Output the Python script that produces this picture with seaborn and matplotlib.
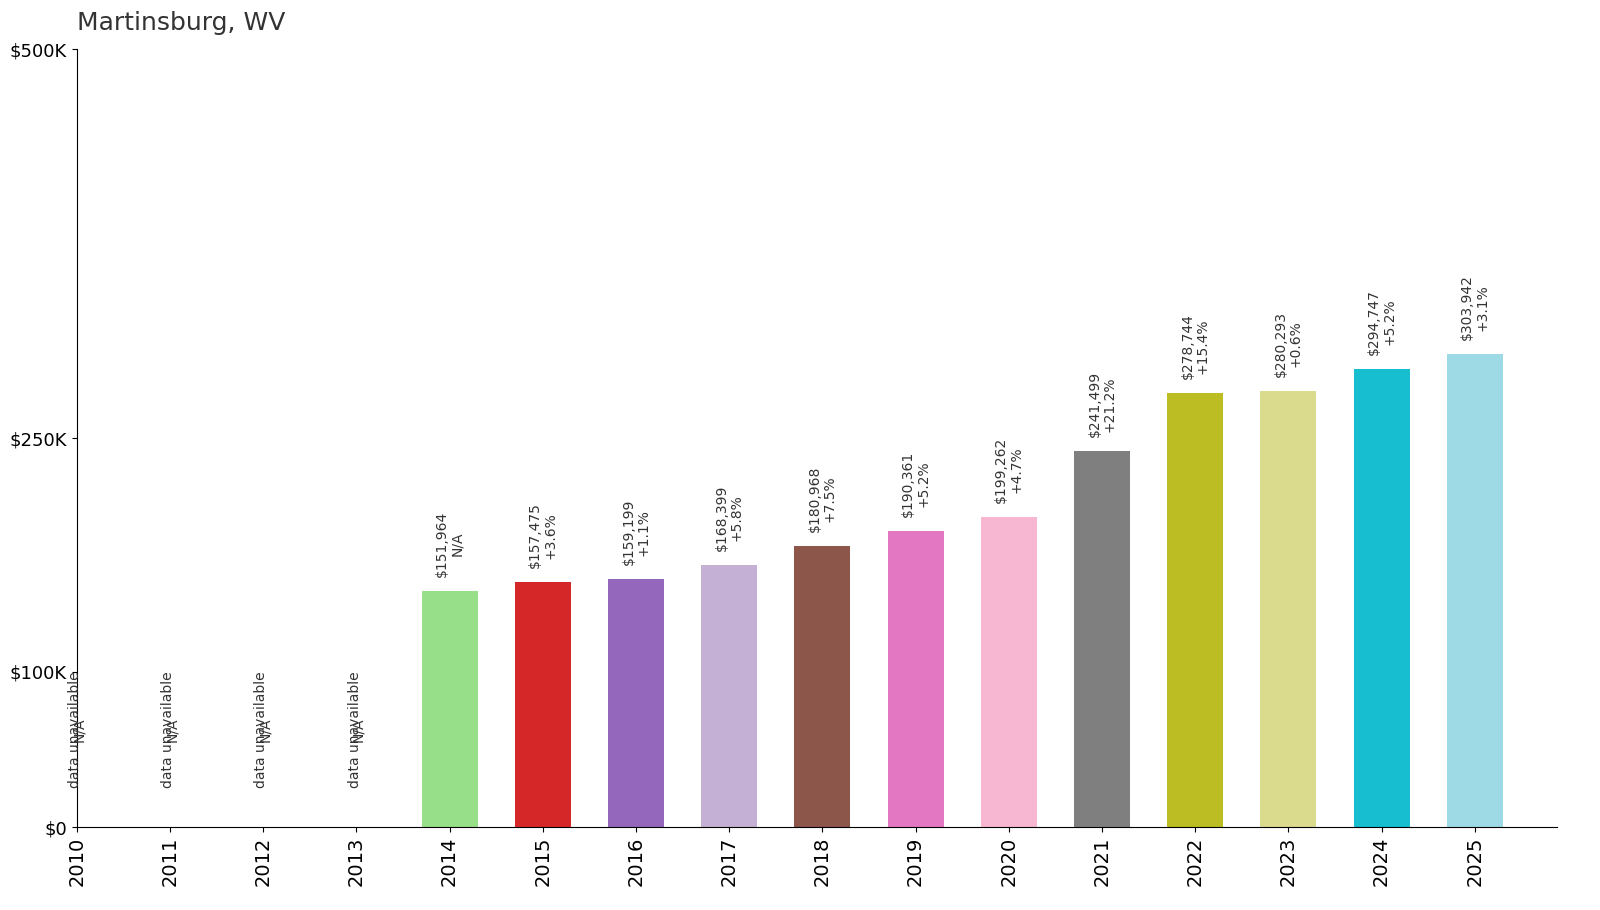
import matplotlib
matplotlib.use("Agg")
import matplotlib.pyplot as plt
import seaborn as sns
import pandas as pd

years = list(range(2010, 2026))
values = [None, None, None, None, 151964, 157475, 159199, 168399, 180968, 190361,
          199262, 241499, 278744, 280293, 294747, 303942]
changes = [None, None, None, None, "N/A", "+3.6%", "+1.1%", "+5.8%", "+7.5%", "+5.2%",
           "+4.7%", "+21.2%", "+15.4%", "+0.6%", "+5.2%", "+3.1%"]
colors = ["#98df8a", "#d62728", "#9467bd", "#c5b0d5", "#8c564b", "#e377c2",
          "#f7b6d2", "#7f7f7f", "#bcbd22", "#dbdb8d", "#17becf", "#9edae5"]
yticks = [0, 100000, 250000, 500000]
ytick_labels = ["$0", "$100K", "$250K", "$500K"]

pos = list(range(len(years)))
df = pd.DataFrame({"pos": pos, "value": values, "change": changes})
have = df.dropna(subset=["value"])

fig = plt.figure(figsize=(16, 9.1), dpi=100)
ax = fig.add_axes([0.048, 0.091, 0.925, 0.855])
sns.barplot(data=have, x="pos", y="value", hue="pos", palette=colors, legend=False,
            native_scale=True, width=0.6, ax=ax, saturation=1)

for _, r in df.iterrows():
    if pd.isna(r["value"]):
        ax.text(r["pos"] - 0.02, 25000, "data unavailable", rotation=90, ha="center",
                va="bottom", fontsize=10, color="#333333")
        ax.text(r["pos"] + 0.02, 55000, "N/A", rotation=90, ha="center",
                va="bottom", fontsize=10, color="#333333")
    else:
        ax.text(r["pos"], r["value"] + 9000, f"${r['value']:,.0f}\n{r['change']}",
                rotation=90, ha="center", va="bottom", fontsize=10, color="#333333",
                linespacing=1.1)

ax.set_xlim(0, 15.88)
ax.set_ylim(0, 500000)
ax.set_xticks(pos)
ax.set_xticklabels([str(y) for y in years], rotation=90, fontsize=14)
ax.set_yticks(yticks)
ax.set_yticklabels(ytick_labels, fontsize=13)
ax.set_xlabel("")
ax.set_ylabel("")
for s in ["top", "right"]:
    ax.spines[s].set_visible(False)
fig.text(0.048, 0.962, "Martinsburg, WV", fontsize=18, color="#333333", ha="left", va="bottom")
fig.savefig("out.png")
